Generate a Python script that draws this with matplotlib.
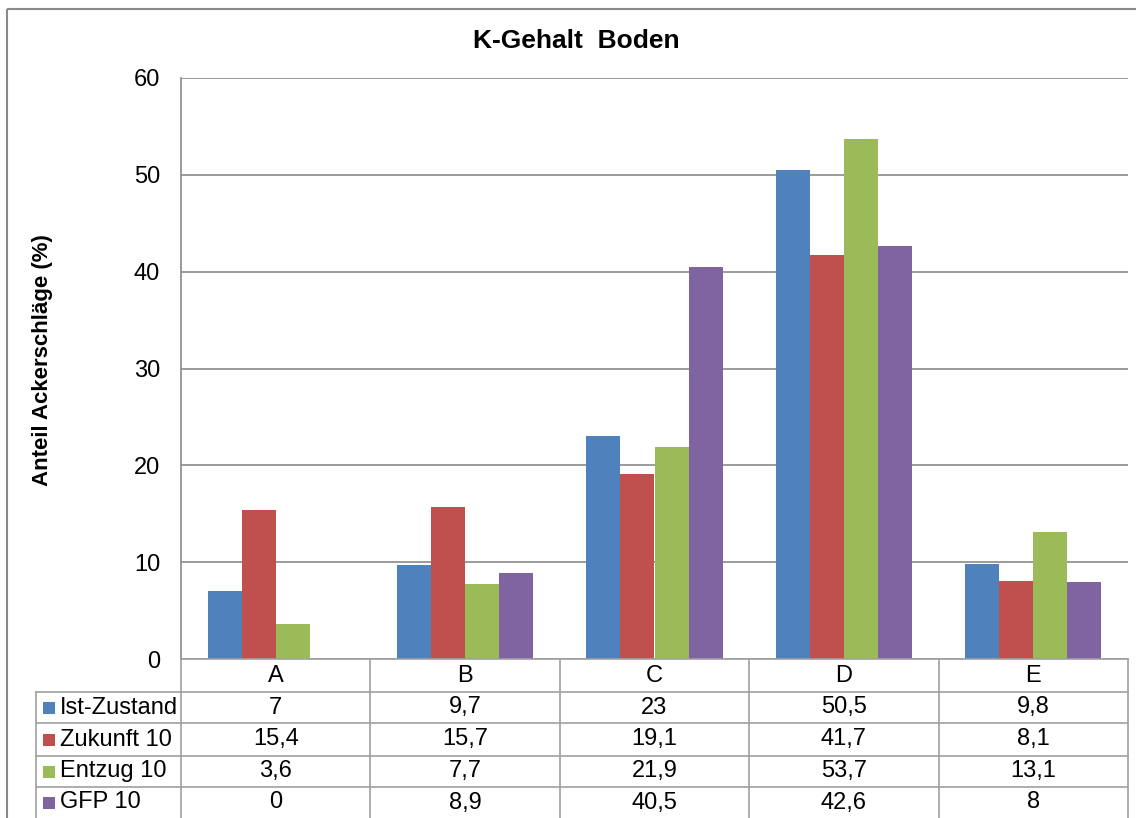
import numpy as np
import matplotlib
matplotlib.use("Agg")
import matplotlib.pyplot as plt
from matplotlib.patches import Rectangle

plt.rcParams['font.family'] = ['Liberation Sans', 'DejaVu Sans']

# Data
categories = ["A", "B", "C", "D", "E"]
series_names = ["Ist-Zustand", "Zukunft 10", "Entzug 10", "GFP 10"]
ist_zustand = [7, 9.7, 23, 50.5, 9.8]
zukunft_10 = [15.4, 15.7, 19.1, 41.7, 8.1]
entzug_10 = [3.6, 7.7, 21.9, 53.7, 13.1]
gfp_10 = [0, 8.9, 40.5, 42.6, 8]
series_values = [ist_zustand, zukunft_10, entzug_10, gfp_10]
colors = ["#4F81BD", "#C0504D", "#9BBB59", "#8064A2"]

title = "K-Gehalt  Boden"
ylabel = "Anteil Ackerschläge (%)"

W, H = 1136, 818
fig = plt.figure(figsize=(W / 100, H / 100), dpi=100)

# plot area in pixel units
px_left, px_right, px_top, px_zero = 181, 1128, 78, 659
ax = fig.add_axes([px_left / W, (H - px_zero) / H,
                   (px_right - px_left) / W, (px_zero - px_top) / H])

n = len(series_names)
bar_w = 0.18
x = np.arange(len(categories))
for i, (vals, c) in enumerate(zip(series_values, colors)):
    ax.bar(x + (i - (n - 1) / 2) * bar_w, vals, width=bar_w, color=c,
           zorder=3, linewidth=0)

ax.set_xlim(-0.5, len(categories) - 0.5)
ax.set_ylim(0, 60)
ax.set_yticks(range(0, 61, 10))
ax.set_xticks([])
ax.yaxis.grid(True, color="#8a8a8a", linewidth=1.2, zorder=0)
ax.tick_params(axis="y", length=0, pad=15, labelsize=17)
for s in ["top", "right", "bottom"]:
    ax.spines[s].set_visible(False)
ax.spines["left"].set_color("#8a8a8a")
ax.spines["left"].set_linewidth(1.2)

fig.text(576 / W, 1 - 48 / H, title, ha="center", va="baseline",
         fontsize=19, fontweight="bold")
fig.text(43 / W, 1 - 360 / H, ylabel, ha="center", va="center",
         rotation=90, fontsize=16, fontweight="bold")

# overlay in pixel coords for frame and data table
ov = fig.add_axes([0, 0, 1, 1], zorder=-1)
ov.set_xlim(0, W)
ov.set_ylim(H, 0)
ov.axis("off")
ov.add_patch(Rectangle((7, 9), W + 20, H + 20, fill=False,
                       edgecolor="#8a8a8a", linewidth=1.5))

tab = fig.add_axes([0, 0, 1, 1], zorder=5)
tab.set_xlim(0, W)
tab.set_ylim(H, 0)
tab.axis("off")
tab.patch.set_alpha(0)

line_kw = dict(color="#a0a0a0", linewidth=1.2)
col_w = (px_right - px_left) / len(categories)
row_lines = [692, 723, 756, 787, 818]
tab_left = 36

for j in range(len(categories) + 1):
    xx = px_left + j * col_w
    tab.plot([xx, xx], [px_zero, H], **line_kw)
tab.plot([px_left, px_right], [px_zero, px_zero], **line_kw)
for yy in row_lines[:-1]:
    tab.plot([tab_left, px_right], [yy, yy], **line_kw)
tab.plot([tab_left, tab_left], [row_lines[0], H], **line_kw)

for j, cat in enumerate(categories):
    tab.text(px_left + (j + 0.5) * col_w, (px_zero + row_lines[0]) / 2, cat,
             ha="center", va="center", fontsize=17)


def fmt(v):
    return f"{v:g}".replace(".", ",")


for i, (name, vals, c) in enumerate(zip(series_names, series_values, colors)):
    yc = (row_lines[i] + row_lines[i + 1]) / 2
    tab.add_patch(Rectangle((43, yc - 6), 12, 12, color=c, linewidth=0))
    tab.text(60, yc, name, ha="left", va="center", fontsize=17)
    for j, v in enumerate(vals):
        tab.text(px_left + (j + 0.5) * col_w, yc, fmt(v),
                 ha="center", va="center", fontsize=17)

fig.savefig("out.png", dpi=100)
